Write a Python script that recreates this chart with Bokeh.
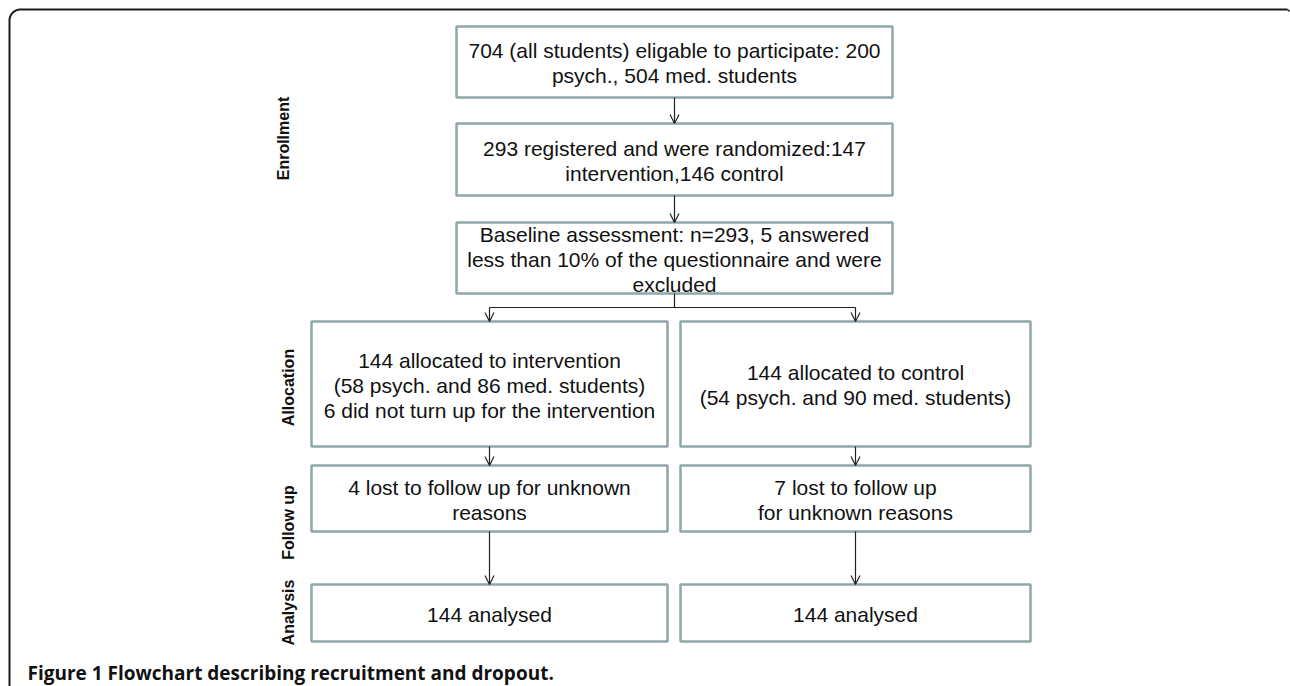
import numpy as np
from bokeh.plotting import figure
from bokeh.models import Range1d, Arrow, OpenHead
from bokeh.core.properties import value
from bokeh.embed import file_html
from bokeh.resources import INLINE

# ---- content ----
stage_labels = ["Enrollment", "Allocation", "Follow up", "Analysis"]
stage_label_x = [283, 288, 288, 288]
stage_label_y = [138, 387, 522, 612]

box_texts = [
    ["704 (all students) eligable to participate: 200", "psych., 504 med. students"],
    ["293 registered and were randomized:147", "intervention,146 control"],
    ["Baseline assessment: n=293, 5 answered", "less than 10% of the questionnaire and were", "excluded"],
    ["144 allocated to intervention", "(58 psych. and 86 med. students)", "6 did not turn up for the intervention"],
    ["144 allocated to control", "(54 psych. and 90 med. students)"],
    ["4 lost to follow up for unknown", "reasons"],
    ["7 lost to follow up", "for unknown reasons"],
    ["144 analysed"],
    ["144 analysed"],
]
# layout (screen pixels): left, right, top, bottom
box_left = [456, 456, 456, 311, 680, 311, 680, 311, 680]
box_right = [892, 892, 892, 667, 1030, 667, 1030, 667, 1030]
box_top = [26, 123, 222, 321, 321, 465, 465, 584, 584]
box_bottom = [97, 195, 293, 446, 446, 531, 531, 641, 641]
line_h = 25

caption = "Figure 1 Flowchart describing recruitment and dropout."

W, H = 1290, 686
p = figure(width=W, height=H, output_backend="svg", toolbar_location=None,
           x_range=Range1d(0, W), y_range=Range1d(H, 0),
           min_border=0)
p.axis.visible = False
p.grid.visible = False
p.outline_line_color = None
p.background_fill_color = "white"

# outer frame (top + left with rounded corner)
r = 11
th = np.linspace(np.pi, 1.5 * np.pi, 20)
cx, cy = 9 + r, 9 + r
ax = cx + r * np.cos(th)
ay = cy + r * np.sin(th)
fx = np.concatenate([[9], ax, [1287]])
fy = np.concatenate([[700], ay, [9]])
p.line(fx, fy, line_color="#1a1a1a", line_width=2)
p.line([1287, 1289], [9, 11], line_color="#1a1a1a", line_width=1.5)

# boxes
p.quad(left=box_left, right=box_right, top=box_top, bottom=box_bottom,
       fill_color="white", line_color="#8fa7a9", line_width=2.5)

# texts, centred in each box
tx, ty, tt = [], [], []
for i, lines in enumerate(box_texts):
    cxm = (box_left[i] + box_right[i]) / 2
    cym = (box_top[i] + box_bottom[i]) / 2 + 1
    n = len(lines)
    for j, s in enumerate(lines):
        tx.append(cxm)
        ty.append(cym + (j - (n - 1) / 2) * line_h)
        tt.append(s)
p.text(x=tx, y=ty, text=tt, text_align="center", text_baseline="middle",
       text_font=value("Liberation Sans"), text_font_size="21px", text_color="#111111")

# stage labels
p.text(x=stage_label_x, y=stage_label_y, text=stage_labels, angle=np.pi / 2,
       text_align="center", text_baseline="middle",
       text_font=value("Liberation Sans"), text_font_style="bold",
       text_font_size="16px", text_color="#111111")

# connectors
lc = "#222222"
p.segment(x0=[674, 489], y0=[293, 307], x1=[674, 855], y1=[307, 307], line_color=lc, line_width=1.2)
arrows = [
    (674, 97, 674, 123),
    (674, 195, 674, 222),
    (489, 307, 489, 321),
    (855, 307, 855, 321),
    (489, 446, 489, 465),
    (855, 446, 855, 465),
    (489, 531, 489, 584),
    (855, 531, 855, 584),
]
for x0, y0, x1, y1 in arrows:
    p.add_layout(Arrow(end=OpenHead(size=9, line_width=1.2, line_color=lc),
                       x_start=x0, y_start=y0, x_end=x1, y_end=y1,
                       line_color=lc, line_width=1.2))

# caption
p.text(x=[27], y=[672], text=[caption], text_align="left", text_baseline="middle",
       text_font=value("Open Sans"), text_font_style="bold", text_font_size="19px",
       text_color="#111111")

open("out.html", "w").write(file_html(p, INLINE))
